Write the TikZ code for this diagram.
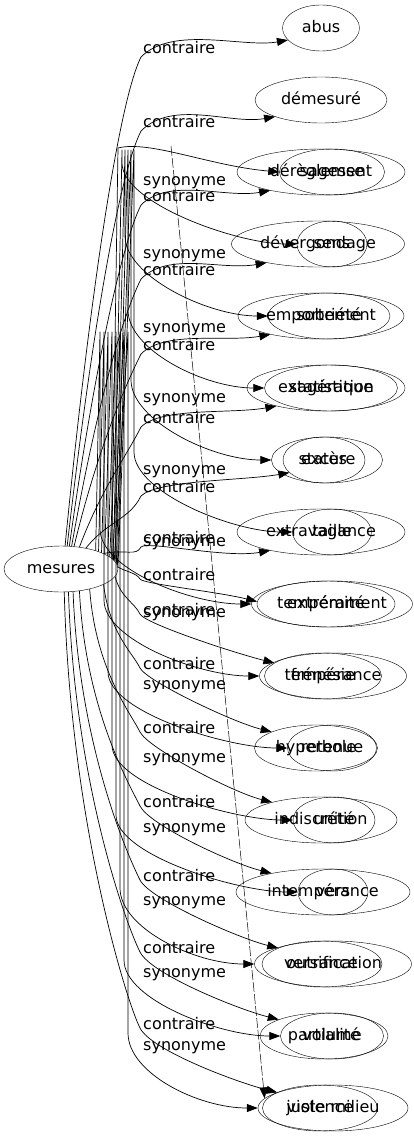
\documentclass[tikz,border=0pt]{standalone}
\usepackage{fontspec}
\setmainfont{DejaVu Sans}
\usetikzlibrary{shapes.geometric,arrows.meta,calc}

\begin{document}
\begin{tikzpicture}[
  x=1pt, y=-1pt,
  font=\fontsize{16}{19}\selectfont,
  mot/.style={
    draw,
    ellipse,
    inner sep=0pt,
    text height=12pt,
    text depth=3.5pt,
    minimum height=46pt,
    minimum width=#1
    },
  etiq/.style={anchor=west, inner sep=0pt},
  lien/.style={line width=0.7pt, line join=round, -{Triangle[length=11pt,width=8pt]}}
]
\useasboundingbox (0,0) rectangle (414,1139);

\node[mot=114pt] (mesures) at (61,569) {mesures};

% une ligne par rang : contraire et synonyme superposes
\node[mot=77pt] (abus) at (321,28) {abus};
\node[mot=132pt] (demesure) at (321,100) {démesuré};
\node[mot=168pt] (dereglement) at (321,172) {dérèglement};
\node[mot=105pt] (sagesse) at (332,172) {sagesse};
\node[mot=173pt] (devergondage) at (318,244) {dévergondage};
\node[mot=70pt] (sens) at (332,244) {sens};
\node[mot=166pt] (emportement) at (321,316) {emportement};
\node[mot=122pt] (sobriete) at (329,316) {sobriété};
\node[mot=158pt] (exageration) at (326,388) {exagération};
\node[mot=133pt] (statistique) at (331,388) {statistique};
\node[mot=111pt] (stature) at (327,460) {stature};
\node[mot=82pt] (exces) at (324,460) {excès};
\node[mot=168pt] (extravagance) at (321,532) {extravagance};
\node[mot=79pt] (taille) at (332,532) {taille};
\node[mot=161pt] (temperament) at (332,604) {tempérament};
\node[mot=138pt] (extremite) at (326,604) {extrémité};
\node[mot=147pt] (temperance) at (333,676) {tempérance};
\node[mot=117pt] (frenesie) at (323,676) {frénésie};
\node[mot=123pt] (hyperbole) at (316,748) {hyperbole};
\node[mot=89pt] (retenue) at (332,748) {retenue};
\node[mot=152pt] (indiscretion) at (321,820) {indiscrétion};
\node[mot=82pt] (unite) at (334,820) {unité};
\node[mot=174pt] (intemperance) at (323,892) {intempérance};
\node[mot=70pt] (vers) at (333,892) {vers};
\node[mot=157pt] (versification) at (333,964) {versification};
\node[mot=120pt] (outrance) at (322,964) {outrance};
\node[mot=128pt] (partialite) at (324,1036) {partialité};
\node[mot=103pt] (volume) at (332,1036) {volume};
\node[mot=150pt] (justemilieu) at (333,1108) {juste milieu};
\node[mot=115pt] (violence) at (320,1108) {violence};

% etiquettes des aretes
\foreach \i/\ya in {1/48, 2/122, 3/196, 4/270, 5/345, 6/418, 7/487, 8/538, 9/575, 10/610, 11/664, 12/728, 13/802, 14/876, 15/948, 16/1024}
  \node[etiq] (lc\i) at (143,\ya) {contraire};
\foreach \i/\ya in {4/183, 5/256, 6/330, 7/400, 8/472, 9/544, 10/615, 11/687, 12/760, 13/830, 14/903, 15/975, 16/1048}
  \node[etiq] (ls\i) at (143,\ya) {synonyme};

\coordinate (pointille) at (171,146);

% contraires du haut
\foreach \i/\cible/\ang/\q/\ya in {1/abus/80/40/48, 2/demesure/75/40/122, 3/dereglement/70/35/196, 4/devergondage/65/35/270, 5/emportement/60/30/345, 6/exageration/50/25/418, 7/exces/40/20/487, 8/extravagance/20/8/538}
  \draw[lien] (mesures.\ang)
    .. controls +(22,{-max(0.45*(548-\ya),4)}) and +({-0.6*\q},{1.2*\q}) .. ($(lc\i.west)+(-2,9)$)
    .. controls +({0.8*\q},{-0.8*\q}) and +(-45,8) .. (\cible.200);

% synonymes du haut
\draw[lien] (mesures.12) -- (118,148)
  .. controls (150,140) and (210,166) .. (sagesse.west);
\foreach \i/\cible/\ang/\xb/\ya in {4/sens/10/122/183, 5/sobriete/8/125/256, 6/statistique/6/128/330, 7/stature/4/131/400, 8/taille/2/134/472}
  \draw[lien] (mesures.\ang) -- (\xb,150)
    -- (\xb,{\ya-20})
    .. controls (\xb,{\ya+20}) and ($(\cible.west)+(-60,0)$) .. (\cible.west);

% synonymes du bas
\foreach \i/\cible/\ang/\xb/\ya in {9/temperament/28/100/544, 10/temperance/25/104/615, 11/retenue/22/108/687, 12/unite/19/112/760, 13/vers/16/116/830, 14/versification/14/120/903, 15/volume/11/124/975, 16/justemilieu/9/128/1048}
  \draw[lien] (mesures.\ang) -- (\xb,332)
    -- (\xb,{\ya-15})
    .. controls (\xb,{\ya+25}) and ($(\cible.west)+(-60,0)$) .. (\cible.west);

% contraires du bas
\foreach \i/\cible/\ang/\q/\ya/\arr in {9/extremite/2/3/575/178, 10/frenesie/-8/6/610/165, 11/hyperbole/-20/8/664/160, 12/indiscretion/-35/10/728/160, 13/intemperance/-50/12/802/160, 14/outrance/-62/12/876/160, 15/partialite/-72/14/948/160, 16/violence/-82/14/1024/160}
  \draw[lien] (mesures.\ang)
    .. controls +(6,{0.5*(\ya-575)+4}) and +(-\q,{-2*\q}) .. ($(lc\i.west)+(-3,4)$)
    .. controls +({0.8*\q},{1.6*\q}) and +(-40,-10) .. (\cible.\arr);

\draw[lien, line width=0.5pt, dash pattern=on 10pt off 2pt] (pointille) -- (justemilieu.172);
\end{tikzpicture}
\end{document}
